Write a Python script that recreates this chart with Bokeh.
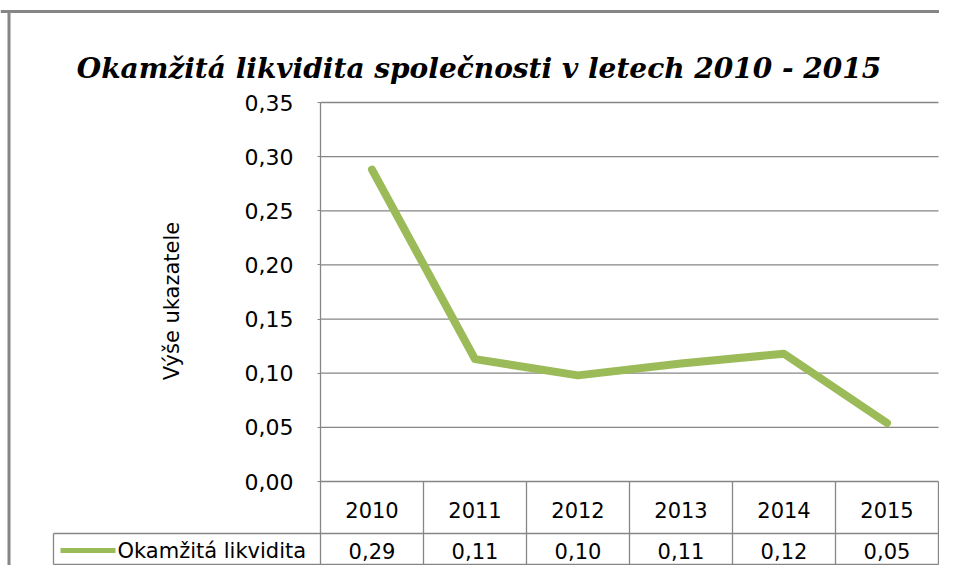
from bokeh.plotting import figure
from bokeh.models import Range1d, LinearAxis, FixedTicker, CustomJSTickFormatter, Label
from bokeh.embed import file_html
from bokeh.resources import INLINE
from bokeh.core.properties import value

# ---- data ----
years = ["2010", "2011", "2012", "2013", "2014", "2015"]
liquidity = [0.288, 0.113, 0.098, 0.109, 0.118, 0.054]
y_ticks = [0.0, 0.05, 0.10, 0.15, 0.20, 0.25, 0.30, 0.35]
title_text = "Okamžitá likvidita společnosti v letech 2010 - 2015"
series_name = "Okamžitá likvidita"
y_label = "Výše ukazatele"
table_values = [f"{v:.2f}".replace(".", ",") for v in liquidity]

# ---- geometry (canvas pixels) ----
W, H = 939, 565
PLOT_LEFT = 320.0
PLOT_RIGHT = 938.0
ZERO_Y = 481.0
TOP_Y = 102.0
n = len(years)
ymax = y_ticks[-1]
COLW = (PLOT_RIGHT - PLOT_LEFT) / n
PXU = (ZERO_Y - TOP_Y) / ymax


def dx(px):
    return (px - PLOT_LEFT) / COLW


def dy(px):
    return (ZERO_Y - px) / PXU


GRID = "#868686"
GREEN = "#9BBB59"

p = figure(width=W, height=H, x_range=Range1d(dx(0), dx(W)), y_range=Range1d(dy(H), dy(0)),
           toolbar_location=None, output_backend="svg", x_axis_location=None,
           y_axis_location=None, min_border=0)
p.outline_line_color = None
p.background_fill_color = "white"
p.border_fill_color = "white"
p.xgrid.visible = False
p.ygrid.visible = False

xc = [i + 0.5 for i in range(n)]

# gridlines
p.segment(x0=[0] * len(y_ticks), x1=[n] * len(y_ticks), y0=y_ticks, y1=y_ticks,
          line_color=GRID, line_width=1.3)

# table geometry
row1 = dy(533)
row2 = dy(564)
cell_left = dx(53)

# vertical axis line + column dividers
p.segment(x0=[0], x1=[0], y0=[ymax], y1=[row2], line_color=GRID, line_width=1.3)
p.segment(x0=list(range(1, n + 1)), x1=list(range(1, n + 1)), y0=[0] * n, y1=[row2] * n,
          line_color=GRID, line_width=1.3)
p.segment(x0=[cell_left], x1=[cell_left], y0=[row1], y1=[row2], line_color=GRID, line_width=1.3)
p.segment(x0=[cell_left, cell_left], x1=[n, n], y0=[row1, row2], y1=[row1, row2],
          line_color=GRID, line_width=1.3)

# the line series
p.line(x=xc, y=liquidity, line_color=GREEN, line_width=8, line_cap="round", line_join="round")

# table text
p.text(x=xc, y=[dy(509)] * n, text=years, text_align="center", text_baseline="middle",
       text_font=value("DejaVu Sans"), text_font_size="21px", text_color="#000000")
p.text(x=xc, y=[dy(550)] * n, text=table_values, text_align="center",
       text_baseline="middle", text_font=value("DejaVu Sans"), text_font_size="21px",
       text_color="#000000")
# legend key in table
p.segment(x0=[dx(60)], x1=[dx(115)], y0=[dy(550)], y1=[dy(550)],
          line_color=GREEN, line_width=5)
p.text(x=[dx(117)], y=[dy(550)], text=[series_name], text_align="left",
       text_baseline="middle", text_font=value("DejaVu Sans"), text_font_size="21px",
       text_color="#000000")

# outer chart border (top & left)
p.segment(x0=[dx(0), dx(8.5)], x1=[dx(W), dx(8.5)], y0=[dy(11), dy(11)], y1=[dy(11), dy(H)],
          line_color=GRID, line_width=3)

# title
p.add_layout(Label(x=dx(478.5), y=dy(68), text=title_text, text_align="center",
                   text_baseline="alphabetic", text_font="DejaVu Serif",
                   text_font_style="bold italic", text_font_size="28px", text_color="#000000"))

# y axis
yaxis = LinearAxis(fixed_location=0, ticker=FixedTicker(ticks=y_ticks),
                   formatter=CustomJSTickFormatter(code="return tick.toFixed(2).replace('.', ',')"),
                   bounds=(-0.017, ymax), axis_label=y_label)
yaxis.axis_line_color = None
yaxis.major_tick_out = 3
yaxis.major_tick_in = 0
yaxis.major_tick_line_color = GRID
yaxis.minor_tick_line_color = None
yaxis.major_label_standoff = 24
yaxis.major_label_text_font = "DejaVu Sans"
yaxis.major_label_text_font_size = "22px"
yaxis.major_label_text_color = "#000000"
yaxis.axis_label_text_font = "DejaVu Sans"
yaxis.axis_label_text_font_size = "21px"
yaxis.axis_label_text_font_style = "normal"
yaxis.axis_label_text_color = "#000000"
yaxis.axis_label_standoff = 58
p.add_layout(yaxis, "left")

open("out.html", "w").write(file_html(p, INLINE))
